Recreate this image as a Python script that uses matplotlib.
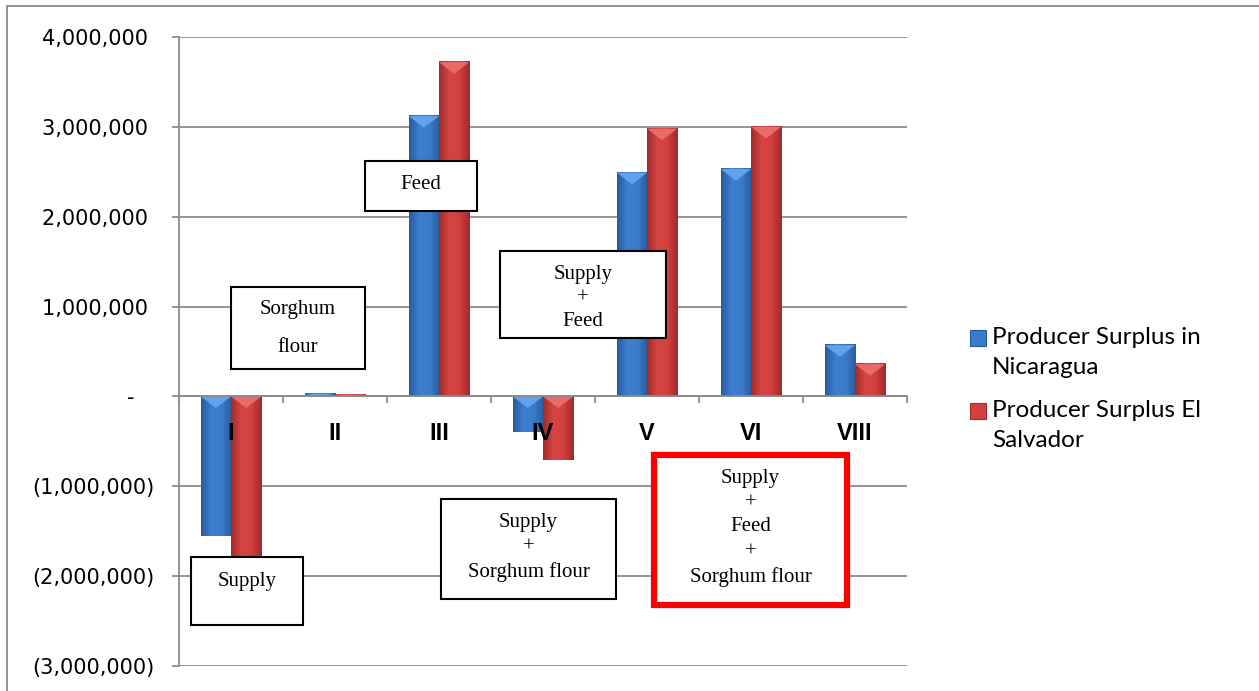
import numpy as np
import matplotlib
matplotlib.use('Agg')
import matplotlib.pyplot as plt
from matplotlib.patches import Rectangle, Polygon
from matplotlib.colors import LinearSegmentedColormap
from matplotlib.ticker import FixedLocator, FuncFormatter

# data
categories = ['I', 'II', 'III', 'IV', 'V', 'VI', 'VIII']
nicaragua = [-1550000, 30000, 3120000, -400000, 2490000, 2530000, 570000]
el_salvador = [-1850000, 20000, 3720000, -710000, 2980000, 3000000, 360000]
series_names = ['Producer Surplus in\nNicaragua', 'Producer Surplus El\nSalvador']
yticks = np.arange(-3000000, 4000001, 1000000)

# scenario notes (text lines, box in axes fraction)
notes = [
    (['Sorghum', 'flour'], (0.0714, 0.4722, 0.2555, 0.6025), [0.566, 0.507], 'black', 1.5),
    (['Feed'], (0.2555, 0.7234, 0.4093, 0.8029), [0.766], 'black', 1.5),
    (['Supply', '+', 'Feed'], (0.4409, 0.5215, 0.6690, 0.6598), [0.6232, 0.5851, 0.5469], 'black', 1.5),
    (['Supply'], (0.0165, 0.0652, 0.1703, 0.1733), [0.1351], 'black', 1.5),
    (['Supply', '+', 'Sorghum flour'], (0.3599, 0.1065, 0.6003, 0.2655), [0.2289, 0.1892, 0.1494], 'black', 1.5),
    (['Supply', '+', 'Feed', '+', 'Sorghum flour'], (0.6525, 0.0970, 0.9176, 0.3355),
     [0.2973, 0.2591, 0.2210, 0.1812, 0.1415], '#ff0000', 4.5),
]

#Configuration variables
tickfs = 15
catfs = 17
notefs = 15
legendfs = 17.5
gridc = '#8c8c8c'
barw = 0.29

blue_cm = LinearSegmentedColormap.from_list('bl', ['#2a5a9c', '#3d7ecf', '#3b7bcb', '#2c5c9e'])
red_cm = LinearSegmentedColormap.from_list('rd', ['#a02c2c', '#d64444', '#d24040', '#a02a2a'])
bevel = {'b': '#62a2ea', 'r': '#ea6a6a'}


def money(v, pos=None):
    if v == 0:
        return '-   '
    if v < 0:
        return '({:,.0f})'.format(-v)
    return '{:,.0f} '.format(v)


fig = plt.figure(figsize=(12.59, 6.91), dpi=100)
ax = fig.add_axes([179/1259, 1-666/691, 728/1259, 629/691])

x = np.arange(len(categories))
b1 = ax.bar(x - barw/2, nicaragua, barw, color='#3b7bcb', zorder=2)
b2 = ax.bar(x + barw/2, el_salvador, barw, color='#d24040', zorder=2)

grad = np.linspace(0, 1, 64).reshape(1, -1)
d = 130000
for bars, cm, bc in [(b1, blue_cm, bevel['b']), (b2, red_cm, bevel['r'])]:
    for p in bars:
        x0 = p.get_x()
        w = p.get_width()
        y0 = p.get_y()
        h = p.get_height()
        lo, hi = min(y0, y0 + h), max(y0, y0 + h)
        ax.imshow(grad, cmap=cm, extent=[x0, x0 + w, lo, hi], aspect='auto', zorder=2.1)
        dd = min(d, hi - lo)
        ax.add_patch(Polygon([(x0, hi), (x0 + w, hi), (x0 + w/2, hi - dd)],
                             closed=True, facecolor=bc, edgecolor='none', zorder=2.2))

ax.set_xlim(-0.5, len(categories) - 0.5)
ax.set_ylim(-3000000, 4000000)

ax.yaxis.set_major_locator(FixedLocator(yticks))
ax.yaxis.set_major_formatter(FuncFormatter(money))
ax.yaxis.grid(True, color=gridc, linewidth=1.3)
ax.set_axisbelow(True)
ax.tick_params(axis='y', length=5, color=gridc, width=1.3, pad=12.5, labelsize=tickfs)
for t in ax.get_yticklabels():
    t.set_family('DejaVu Sans')

ax.spines['top'].set_visible(False)
ax.spines['right'].set_visible(False)
ax.spines['left'].set_color(gridc)
ax.spines['left'].set_linewidth(1.3)
ax.spines['bottom'].set_position(('data', 0))
ax.spines['bottom'].set_color(gridc)
ax.spines['bottom'].set_linewidth(1.3)

ax.set_xticks(x)
ax.set_xticklabels(categories, fontsize=catfs, fontweight='bold', family='Liberation Sans')
ax.set_xticks(np.arange(-0.5, len(categories), 1), minor=True)
ax.tick_params(axis='x', which='major', length=0, pad=18.5)
ax.tick_params(axis='x', which='minor', length=5, color=gridc, width=1.3, direction='out')
# category labels sit on top of the bars
ax.xaxis.set_zorder(3)

# note boxes
for lines, (bx0, by0, bx1, by1), ys, ec, lw in notes:
    ax.add_patch(Rectangle((bx0, by0), bx1 - bx0, by1 - by0, transform=ax.transAxes,
                           facecolor='white', edgecolor=ec, linewidth=lw, zorder=5, clip_on=False))
    for s, yy in zip(lines, ys):
        ax.text((bx0 + bx1)/2, yy, s, transform=ax.transAxes, ha='center', va='center',
                fontsize=notefs, family='Liberation Serif', zorder=6)

# legend drawn by hand so the square sits on the first line
leg_y = [338, 411]
for name, yy, fc, cm in zip(series_names, leg_y, ['#3b7bcb', '#d24040'], [blue_cm, red_cm]):
    fig.patches.append(Rectangle((970/1259, 1 - (yy + 8)/691), 16/1259, 16/691,
                                 transform=fig.transFigure, facecolor=fc,
                                 edgecolor=cm(0.0), linewidth=0.8))
    fig.text(992/1259, 1 - (yy - 11)/691, name, ha='left', va='top', fontsize=legendfs,
             family='Lato', linespacing=1.55)

# chart area border
fig.patches.append(Rectangle((7/1259, -0.1), 1.1, 1 - 6/691 + 0.1, transform=fig.transFigure,
                             facecolor='none', edgecolor='#8a8a8a', linewidth=1.3))

fig.savefig('out.png', dpi=100)
